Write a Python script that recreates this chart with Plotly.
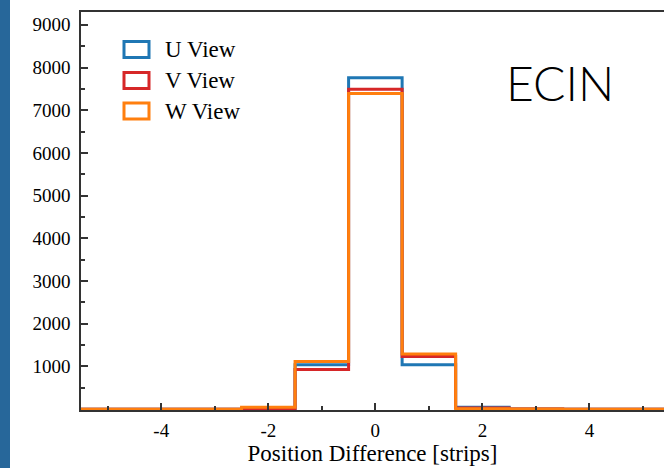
import plotly.graph_objects as go

# Histogram of hit position differences per view (1-strip bins)
bin_edges = [-5.5, -4.5, -3.5, -2.5, -1.5, -0.5, 0.5, 1.5, 2.5, 3.5, 4.5, 5.5]
u_counts = [0, 0, 0, 10, 1040, 7760, 1040, 45, 5, 0, 0]
v_counts = [0, 0, 0, 15, 930, 7490, 1230, 25, 5, 0, 0]
w_counts = [0, 0, 0, 45, 1115, 7390, 1290, 8, 5, 0, 0]

series_names = ["U View", "V View", "W View"]
series_colors = ["#1f77b4", "#d62728", "#ff7f0e"]

x_ticks = [-4, -2, 0, 2, 4]
y_ticks = [1000, 2000, 3000, 4000, 5000, 6000, 7000, 8000, 9000]

W, H = 664, 468
ML, MR, MT, MB = 81, 0, 12, 58
PW, PH = W - ML - MR, H - MT - MB

AXIS_COLOR = "#333333"
SERIF = "Liberation Serif"


def px_x(p):
    return (p - ML) / PW


def px_y(p):
    return (H - MB - p) / PH


fig = go.Figure()
for name, color, counts in zip(series_names, series_colors, [u_counts, v_counts, w_counts]):
    fig.add_trace(go.Scatter(
        x=bin_edges,
        y=counts + [counts[-1]],
        mode="lines",
        line=dict(shape="hv", color=color, width=3),
        name=name,
        showlegend=False,
        hoverinfo="skip",
    ))

shapes = [
    # dark side strip
    dict(type="rect", xref="paper", yref="paper",
         x0=px_x(0), x1=px_x(10), y0=px_y(H), y1=px_y(0),
         fillcolor="#27679a", line=dict(width=0), layer="above"),
]
annotations = []

# legend drawn as outlined patches
row_centers = [49.5, 80.5, 111.0]
for name, color, yc in zip(series_names, series_colors, row_centers):
    shapes.append(dict(
        type="rect", xref="paper", yref="paper",
        x0=px_x(124), x1=px_x(149), y0=px_y(yc + 8), y1=px_y(yc - 8),
        line=dict(color=color, width=3), fillcolor="rgba(0,0,0,0)",
    ))
    annotations.append(dict(
        xref="paper", yref="paper", x=px_x(163), y=px_y(yc),
        xanchor="left", yanchor="middle", showarrow=False,
        text=name, font=dict(family=SERIF, size=23, color="black"),
    ))

annotations.append(dict(
    xref="paper", yref="paper", x=px_x(560), y=px_y(82),
    xanchor="center", yanchor="middle", showarrow=False,
    text="ECIN", font=dict(family="Lato", size=48, color="black", weight=300),
))

fig.update_layout(
    width=W, height=H,
    margin=dict(l=ML, r=MR, t=MT, b=MB, autoexpand=False),
    paper_bgcolor="white", plot_bgcolor="white",
    shapes=shapes, annotations=annotations,
    showlegend=False,
)

fig.update_xaxes(
    range=[-5.5, 5.393],
    tickvals=x_ticks, ticktext=[str(v) for v in x_ticks],
    ticks="inside", ticklen=7, tickwidth=1.5, tickcolor=AXIS_COLOR,
    minor=dict(ticks="inside", ticklen=4, tickwidth=1.5, tickcolor=AXIS_COLOR, dtick=1, tick0=0),
    showline=True, linecolor=AXIS_COLOR, linewidth=1.5, mirror=True,
    showgrid=False, zeroline=False,
    tickfont=dict(family=SERIF, size=19, color="black"),
    ticklabelstandoff=2,
    title=dict(text="Position Difference [strips]", standoff=4,
               font=dict(family=SERIF, size=23, color="black")),
)
fig.update_yaxes(
    range=[-20, 9300],
    tickvals=y_ticks, ticktext=[str(v) for v in y_ticks],
    ticks="inside", ticklen=7, tickwidth=1.5, tickcolor=AXIS_COLOR,
    minor=dict(ticks="inside", ticklen=4, tickwidth=1.5, tickcolor=AXIS_COLOR, dtick=500, tick0=0),
    showline=True, linecolor=AXIS_COLOR, linewidth=1.5, mirror=False,
    showgrid=False, zeroline=False,
    tickfont=dict(family=SERIF, size=19, color="black"),
    ticklabelstandoff=5,
)

fig.write_html("out.html")
